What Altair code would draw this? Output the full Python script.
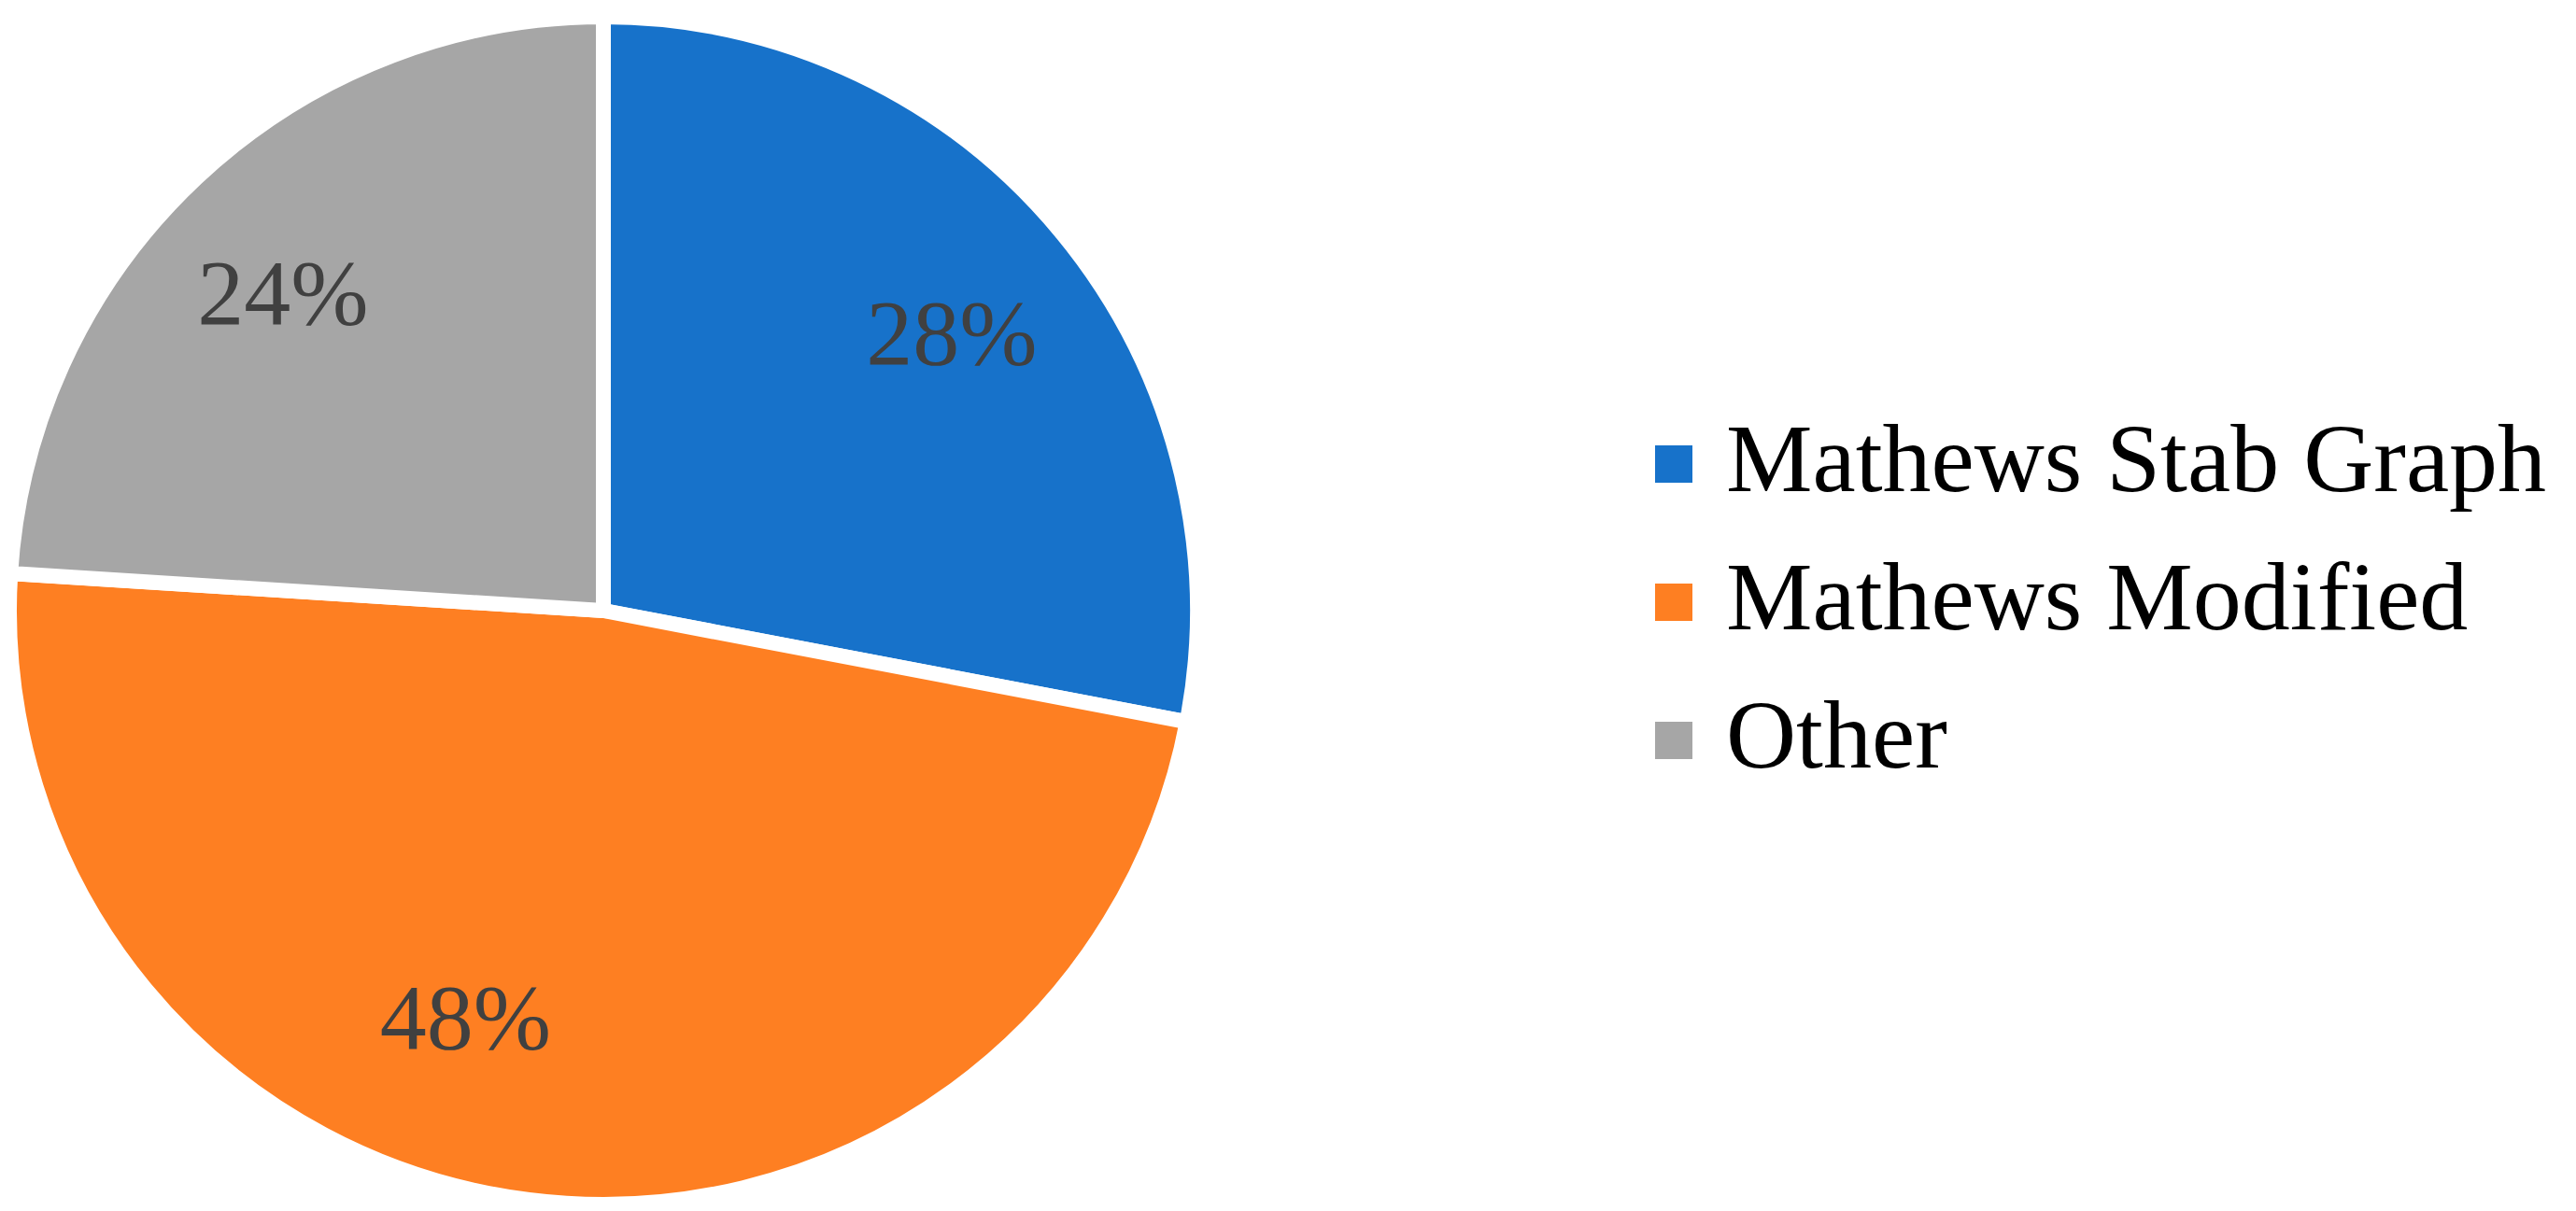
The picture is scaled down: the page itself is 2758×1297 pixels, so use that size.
import altair as alt
import pandas as pd

categories = ["Mathews Stab Graph", "Mathews Modified", "Other"]
values = [28, 48, 24]
labels = ["28%", "48%", "24%"]
colors = ["#1772CA", "#FE7F22", "#A6A6A6"]

df = pd.DataFrame({
    "category": categories,
    "value": values,
    "label": labels,
    "order": [0, 1, 2],
})

CX, CY = 646 - 8, 654 - 8
R = 636

color_scale = alt.Scale(domain=categories, range=colors)

base = alt.Chart(df).encode(
    theta=alt.Theta("value:Q", stack=True),
    order=alt.Order("order:Q"),
    x=alt.value(CX),
    y=alt.value(CY),
)

pie = base.mark_arc(radius=R, stroke="white", strokeWidth=16).encode(
    color=alt.Color("category:N", scale=color_scale, legend=None)
)

# per-slice label nudges (Excel-like placement)
nudges = {"28%": (7, 9), "48%": (-88, -32), "24%": (-18, 9)}
texts = []
for lab in labels:
    ddx, ddy = nudges[lab]
    texts.append(
        base.mark_text(
            radius=475, font="Liberation Serif", fontSize=100, color="#404040",
            dx=ddx, dy=ddy,
        ).encode(
            text="label:N",
            opacity=alt.condition(alt.datum.label == lab, alt.value(1), alt.value(0)),
        )
    )

# legend drawn as marks on a point scale
leg_y = alt.Y(
    "category:N",
    scale=alt.Scale(domain=categories, range=[497 - 8, 793 - 8], padding=0),
    axis=None,
)
leg_sym = alt.Chart(df).mark_square(size=1600, opacity=1).encode(
    x=alt.value(1792 - 8),
    y=leg_y,
    color=alt.Color("category:N", scale=color_scale, legend=None),
)
leg_txt = alt.Chart(df).mark_text(
    align="left", baseline="alphabetic", dy=29,
    font="Liberation Serif", fontSize=104, color="#000000",
).encode(
    x=alt.value(1848 - 8),
    y=leg_y,
    text="category:N",
)

chart = alt.layer(pie, *texts, leg_sym, leg_txt).properties(
    width=2742, height=1281, autosize=alt.AutoSizeParams(type="none"), padding=0
).configure_view(stroke=None)

chart.save("out.html", embed_options={"renderer": "svg", "actions": False})
